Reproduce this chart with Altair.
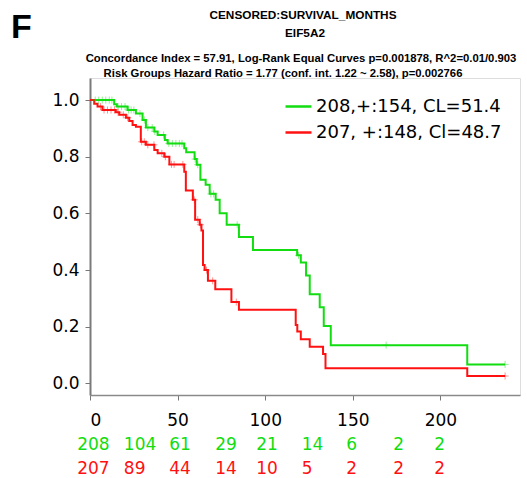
import altair as alt
import pandas as pd

# ---------------- data ----------------
green_label = "208,+:154, CL=51.4"
red_label = "207, +:148, Cl=48.7"

green_t = [0, 13.8, 15.3, 21.4, 26.2, 30.0, 31.9, 36.7, 38.6, 42.7, 44.3, 53.8, 54.9,
           59.7, 60.9, 63.0, 66.0, 68.3, 71.7, 74.0, 78.0, 85.0, 93.0, 118.2, 120.3,
           123.3, 125.4, 131.1, 133.4, 137.4, 215.3, 236.9]
green_s = [1.0, 0.985, 0.977, 0.965, 0.953, 0.930, 0.903, 0.889, 0.877, 0.859, 0.847, 0.830, 0.816,
           0.792, 0.772, 0.719, 0.701, 0.669, 0.648, 0.601, 0.560, 0.517, 0.471, 0.452, 0.427,
           0.381, 0.315, 0.269, 0.203, 0.135, 0.067, 0.067]

red_t = [0, 2.4, 4.3, 7.1, 14.7, 16.7, 20.5, 22.4, 24.3, 26.2, 29.0, 31.9, 36.7, 38.6,
         42.4, 45.3, 53.8, 54.7, 58.7, 60.0, 62.6, 63.6, 64.5, 65.4, 67.3, 71.5, 80.7, 85.0,
         117.4, 118.3, 120.3, 125.4, 133.0, 134.4, 215.3, 236.9]
red_s = [1.0, 0.987, 0.977, 0.965, 0.957, 0.948, 0.938, 0.926, 0.912, 0.906, 0.853, 0.842, 0.824, 0.812,
         0.800, 0.773, 0.747, 0.681, 0.648, 0.578, 0.560, 0.540, 0.418, 0.400, 0.362, 0.332, 0.287, 0.260,
         0.206, 0.183, 0.156, 0.129, 0.104, 0.053, 0.026, 0.026]

green_censor = [3, 5, 7, 9, 11, 12.5, 16, 18, 20, 22, 23.5, 25, 28.5, 31, 33, 35.5, 37, 42,
                45, 47, 49, 51, 52.5, 60, 61.5, 69, 70.5, 84, 119, 169, 236.9]
red_censor = [6, 8, 10, 12, 14, 16, 19, 21.5, 29.5, 31, 33, 36.5, 41, 43, 46.5, 48, 53,
              59.5, 61.5, 63, 66.5, 70, 83.5, 236.9]

x_ticks = [0, 50, 100, 150, 200]
y_ticks = [0.0, 0.2, 0.4, 0.6, 0.8, 1.0]

risk_pos = [-7.3, 19.3, 45.2, 71.5, 94.9, 120.8, 146.2, 173.1, 196.5]
risk_green = [208, 104, 61, 29, 21, 14, 6, 2, 2]
risk_red = [207, 89, 44, 14, 10, 5, 2, 2, 2]

title_lines = ["CENSORED:SURVIVAL_MONTHS",
               "EIF5A2",
               "Concordance Index = 57.91, Log-Rank Equal Curves p=0.001878, R^2=0.01/0.903",
               "Risk Groups Hazard Ratio = 1.77 (conf. int. 1.22 ~ 2.58), p=0.002766"]
panel_label = "F"

GREEN = "#11DD11"
RED = "#FF1111"


def step_value(ts, ss, t):
    v = ss[0]
    for ti, si in zip(ts, ss):
        if ti <= t:
            v = si
    return v


curves = pd.concat([
    pd.DataFrame({"t": green_t, "s": green_s, "group": green_label}),
    pd.DataFrame({"t": red_t, "s": red_s, "group": red_label}),
], ignore_index=True)

censors = pd.concat([
    pd.DataFrame({"t": green_censor, "s": [step_value(green_t, green_s, c) for c in green_censor],
                  "group": green_label}),
    pd.DataFrame({"t": red_censor, "s": [step_value(red_t, red_s, c) for c in red_censor],
                  "group": red_label}),
], ignore_index=True)

risk_g = pd.DataFrame({"t": risk_pos, "n": [str(v) for v in risk_green]})
risk_r = pd.DataFrame({"t": risk_pos, "n": [str(v) for v in risk_red]})

xscale = alt.Scale(domain=[0, 245.4], nice=False, zero=False)
yscale = alt.Scale(domain=[-0.041, 1.078], nice=False, zero=False)
cscale = alt.Scale(domain=[green_label, red_label], range=[GREEN, RED])

x_enc = alt.X("t:Q", scale=xscale, title=None,
              axis=alt.Axis(values=x_ticks, format="d", grid=False, labelFontSize=17,
                            labelFont="DejaVu Sans", labelColor="black", labelPadding=12,
                            tickSize=5, tickColor="#777", domainColor="#8a8a8a", domainWidth=1.5))
y_enc = alt.Y("s:Q", scale=yscale, title=None,
              axis=alt.Axis(values=y_ticks, format=".1f", grid=False, labelFontSize=17,
                            labelFont="DejaVu Sans", labelColor="black", labelPadding=6,
                            tickSize=5, tickColor="#777", domainColor="#7a7a7a", domainWidth=2))

lines = alt.Chart(curves).mark_line(interpolate="step-after", strokeWidth=2).encode(
    x=x_enc, y=y_enc,
    color=alt.Color("group:N", scale=cscale, sort=[green_label, red_label],
                    legend=alt.Legend(title=None, orient="none", legendX=194, legendY=14,
                                      symbolType="stroke", symbolSize=676, symbolStrokeWidth=2.5,
                                      labelFontSize=18, labelFont="DejaVu Sans", labelColor="black",
                                      labelLimit=400, labelOffset=3, rowPadding=2, padding=0)),
    detail="group:N",
)

marks = alt.Chart(censors).mark_point(
    shape="M-1,0L1,0M0,-1L0,1", size=50, filled=False, strokeWidth=1, opacity=0.45
).encode(
    x="t:Q", y="s:Q",
    color=alt.Color("group:N", scale=cscale, legend=None),
)

txt_g = alt.Chart(risk_g).mark_text(align="left", baseline="middle", fontSize=17,
                                    font="DejaVu Sans", color=GREEN).encode(
    x="t:Q", y=alt.value(367), text="n:N")
txt_r = alt.Chart(risk_r).mark_text(align="left", baseline="middle", fontSize=17,
                                    font="DejaVu Sans", color=RED).encode(
    x="t:Q", y=alt.value(391), text="n:N")

one = pd.DataFrame({"k": [0]})


def header(text, cx, by, size):
    return alt.Chart(one).mark_text(
        text=text, align="center", baseline="alphabetic", fontSize=size,
        fontWeight="bold", font="Liberation Sans", color="black"
    ).encode(x=alt.value(cx), y=alt.value(by))


head_layers = [
    header(title_lines[0], 213, -59, 11.8),
    header(title_lines[1], 215, -41.5, 11.8),
    header(title_lines[2], 211, -16.5, 11.3),
    header(title_lines[3], 193, -1.5, 11.3),
]

panel = alt.Chart(one).mark_text(
    text=panel_label, align="left", baseline="alphabetic", fontSize=34, fontWeight="bold",
    font="Liberation Sans", color="black").encode(
    x=alt.value(-79), y=alt.value(-40))

chart = alt.layer(lines, marks, txt_g, txt_r, panel, *head_layers).properties(
    width=430, height=317,
    autosize=alt.AutoSizeParams(type="none"),
    padding={"left": 90, "top": 78, "right": 7, "bottom": 83},
).configure_view(stroke="#999999", strokeWidth=1.5).configure(background="white")

chart.save("out.html", embed_options={"renderer": "svg", "actions": False})
